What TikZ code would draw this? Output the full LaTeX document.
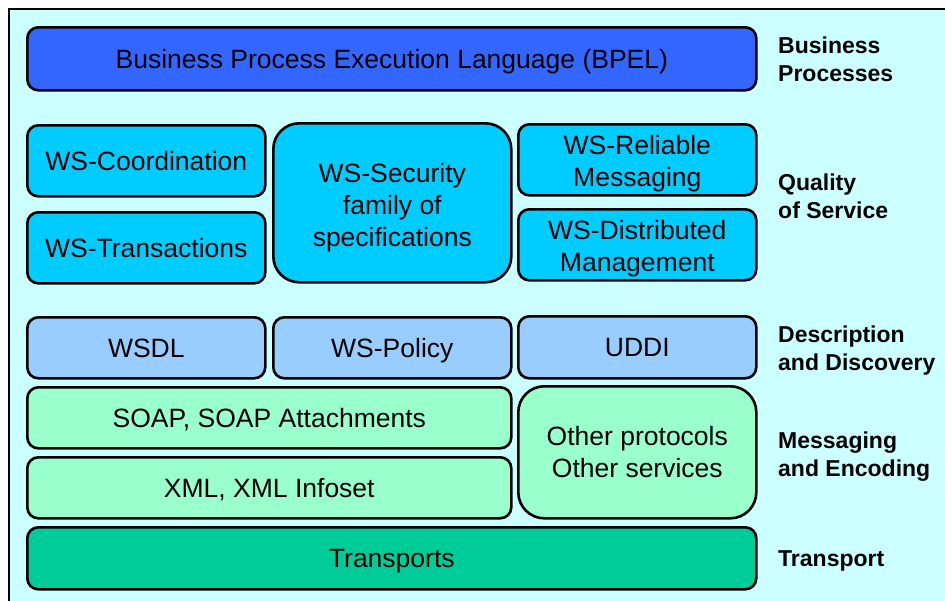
\documentclass[tikz,border=0pt]{standalone}
\usepackage{fontspec}
\setmainfont{Liberation Sans}
\definecolor{bgcyan}{HTML}{CCFFFF}
\definecolor{bpelblue}{HTML}{3366FF}
\definecolor{qoscyan}{HTML}{00CCFF}
\definecolor{descblue}{HTML}{99CCFF}
\definecolor{msggreen}{HTML}{99FFCC}
\definecolor{trgreen}{HTML}{00CC99}
\tikzset{
  box/.style={draw=black, line width=2.6pt, rounded corners=11pt, anchor=north west,
    align=center, inner sep=0pt, font=\fontsize{26.5}{32}\selectfont},
  oneline/.style={box, text height=25pt, text depth=6pt},
  bigbox/.style={box, rounded corners=26pt},
  layerlabel/.style={anchor=west, align=left, inner sep=0pt,
    font=\bfseries\fontsize{23}{28}\selectfont}
}
\newcommand{\topstrut}{\rule{0pt}{26.5pt}}
\begin{document}
\begin{tikzpicture}[x=1pt,y=-1pt]
\useasboundingbox (0,0) rectangle (945,600);
\fill[white] (0,0) rectangle (945,600);
\draw[fill=bgcyan, line width=1.2pt] (9,620) -- (9,9) -- (960,9);
\fill[bgcyan] (9.6,9.6) rectangle (960,620);
% Business processes
\node[oneline, fill=bpelblue, minimum width=729pt, minimum height=63pt] (bpel) at (26,26) {Business Process Execution Language (BPEL)};
% Quality of service
\node[oneline, fill=qoscyan, minimum width=238pt, minimum height=71pt] (coord) at (26,124) {WS-Coordination};
\node[oneline, fill=qoscyan, minimum width=238pt, minimum height=71pt] (trans) at (26,211) {WS-Transactions};
\node[bigbox, fill=qoscyan, minimum width=238pt, minimum height=159pt] (sec) at (272,122) {\rule{0pt}{28pt}WS-Security\\family of\\specifications};
\node[box, fill=qoscyan, minimum width=238pt, minimum height=71pt] (rel) at (517,123) {\topstrut WS-Reliable\\Messaging};
\node[box, fill=qoscyan, minimum width=238pt, minimum height=71pt] (dist) at (517,208) {\topstrut WS-Distributed\\Management};
% Description and discovery
\node[oneline, fill=descblue, minimum width=238pt, minimum height=61pt] (wsdl) at (26,316) {WSDL};
\node[oneline, fill=descblue, minimum width=238pt, minimum height=61pt] (pol) at (272,316) {WS-Policy};
\node[oneline, fill=descblue, minimum width=238pt, minimum height=62pt] (uddi) at (517,315) {UDDI};
% Messaging and encoding
\node[oneline, fill=msggreen, minimum width=484pt, minimum height=61pt] (soap) at (26,386) {SOAP, SOAP Attachments};
\node[oneline, fill=msggreen, minimum width=484pt, minimum height=61pt] (xml) at (26,456) {XML, XML Infoset};
\node[bigbox, fill=msggreen, minimum width=238pt, minimum height=132pt] (other) at (517,385) {Other protocols\\Other services};
% Transport
\node[oneline, fill=trgreen, minimum width=729pt, minimum height=62pt] (tr) at (26,526) {Transports};
% Layer labels
\node[layerlabel] (lbp) at (778,59) {Business\\Processes};
\node[layerlabel] (lqos) at (778,196) {Quality\\of Service};
\node[layerlabel] (ldd) at (778,351) {Description\\and Discovery};
\node[layerlabel] (lme) at (778,457) {Messaging\\and Encoding};
\node[layerlabel] (ltr) at (778,561) {Transport};
\end{tikzpicture}
\end{document}
